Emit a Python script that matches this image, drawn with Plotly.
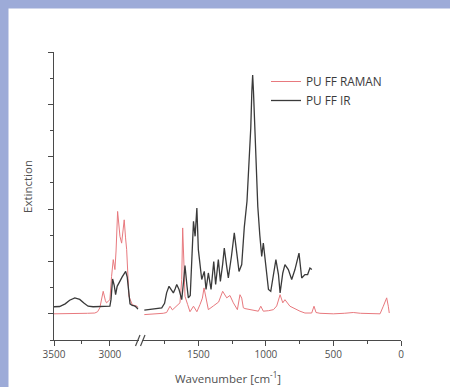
import plotly.graph_objects as go

# ---------------- data ----------------
# IR spectrum, high wavenumber part (left axis segment)
ir_left_wn  = [3500, 3450, 3400, 3360, 3314, 3270, 3230, 3195, 3150, 3100, 3050, 3000, 2990,
               2976, 2962, 2949, 2935, 2925, 2910, 2890, 2875, 2859, 2845, 2830, 2820, 2800, 2780, 2760, 2750]
ir_left_val = [0.27, 0.28, 0.38, 0.52, 0.61, 0.55, 0.40, 0.29, 0.27, 0.27, 0.28, 0.29, 0.55,
               1.33, 1.10, 0.73, 1.05, 1.15, 1.25, 1.41, 1.50, 1.62, 1.40, 0.80, 0.38, 0.32, 0.30, 0.24, 0.18]

# IR spectrum, fingerprint part (right axis segment)
ir_right_wn  = [1900, 1850, 1800, 1771, 1750, 1735, 1717, 1702, 1685, 1672, 1660, 1643, 1630, 1623,
                1610, 1599, 1585, 1574, 1560, 1545, 1536, 1524, 1511, 1500, 1487, 1475, 1456, 1443,
                1426, 1406, 1386, 1372, 1352, 1337, 1320, 1308, 1290, 1278, 1255, 1234, 1215, 1199,
                1179, 1160, 1140, 1125, 1112, 1104, 1098, 1092, 1082, 1070, 1060, 1045, 1031, 1019,
                1006, 993, 981, 964, 944, 926, 907, 895, 875, 859, 834, 809, 785, 755, 735, 711,
                691, 674, 660]
ir_right_val = [0.14, 0.17, 0.20, 0.23, 0.40, 0.80, 1.05, 0.93, 0.80, 0.95, 1.12, 0.93, 0.70, 0.54,
                1.20, 1.84, 1.10, 0.61, 0.70, 2.40, 3.53, 2.96, 4.04, 2.45, 1.70, 1.31, 1.62, 0.93,
                1.56, 0.93, 2.00, 1.12, 2.07, 1.24, 1.90, 2.51, 1.80, 1.37, 2.20, 3.09, 2.30, 1.62,
                1.88, 3.30, 4.30, 5.60, 7.10, 8.50, 9.12, 8.50, 7.00, 5.20, 4.10, 3.00, 2.19, 2.70,
                2.00, 1.43, 0.93, 0.86, 1.50, 2.07, 1.50, 0.80, 1.56, 1.88, 1.69, 1.31, 1.69, 2.32,
                1.37, 1.50, 1.50, 1.75, 1.69]

# Raman spectrum, high wavenumber part
raman_left_wn  = [3500, 3400, 3300, 3200, 3135, 3110, 3090, 3060, 3040, 3030, 3010, 3000, 2985,
                  2970, 2955, 2945, 2931, 2920, 2910, 2895, 2884, 2872, 2860, 2850, 2830, 2800, 2780, 2760, 2750]
raman_left_val = [0.00, 0.00, 0.02, 0.02, 0.03, 0.08, 0.23, 0.86, 0.50, 0.42, 0.50, 0.54, 1.43,
                  2.07, 1.69, 2.40, 3.91, 3.30, 2.96, 2.70, 3.10, 3.59, 2.90, 2.45, 0.67, 0.35, 0.32, 0.30, 0.25]

# Raman spectrum, fingerprint part
raman_right_wn  = [1900, 1850, 1800, 1760, 1735, 1710, 1692, 1660, 1636, 1623, 1616, 1606, 1599,
                   1579, 1562, 1536, 1511, 1488, 1470, 1458, 1440, 1426, 1389, 1350, 1320, 1290,
                   1266, 1241, 1211, 1192, 1179, 1167, 1155, 1105, 1056, 1038, 1019, 980, 944,
                   920, 895, 875, 859, 822, 790, 748, 711, 661, 644, 629, 600, 501, 420, 353,
                   300, 200, 155, 131, 106, 94, 87]
raman_right_val = [-0.03, -0.02, 0.00, 0.02, 0.05, 0.29, 0.15, 0.29, 0.42, 1.31, 3.28, 1.81, 0.67,
                   0.35, 0.08, 0.29, 0.08, 0.35, 0.60, 0.99, 0.45, 0.16, 0.30, 0.45, 0.86, 0.61,
                   0.70, 0.42, 0.16, 0.73, 0.60, 0.23, 0.20, 0.16, 0.10, 0.29, 0.10, 0.12, 0.16,
                   0.30, 0.73, 0.42, 0.54, 0.29, 0.20, 0.10, 0.03, 0.03, 0.29, 0.05, 0.02, 0.00, 0.02, 0.05,
                   0.02, 0.00, 0.00, 0.29, 0.61, 0.29, 0.03]

series_names = ["PU FF RAMAN", "PU FF IR"]
x_major_left = [3500, 3000]
x_minor_left = [3250]
x_major_right = [1500, 1000, 500, 0]
x_minor_right = [1750, 1250, 750, 250]
y_major = [0, 2, 4, 6, 8, 10]
y_minor = [-1, 1, 3, 5, 7, 9]

RED = "#E8797E"
BLACK = "#3a3a3a"
AXIS = "#4a4a4a"
TXT = "#505050"
BLUE = "#9DABD8"
FONT = "Open Sans"

# ---------------- geometry (pixels) ----------------
W, H = 450, 387
L, R, T, B = 54, 401, 52, 340
pw, ph = R - L, B - T
def px(x):
    return (x - L) / pw
def py(y):
    return (B - y) / ph

fig = go.Figure()
fig.add_trace(go.Scatter(x=raman_left_wn, y=raman_left_val, mode="lines", name=series_names[0],
                         line=dict(color=RED, width=1), xaxis="x", yaxis="y", legendgroup="r"))
fig.add_trace(go.Scatter(x=ir_left_wn, y=ir_left_val, mode="lines", name=series_names[1],
                         line=dict(color=BLACK, width=1.3), xaxis="x", yaxis="y", legendgroup="i"))
fig.add_trace(go.Scatter(x=raman_right_wn, y=raman_right_val, mode="lines", name=series_names[0],
                         line=dict(color=RED, width=1), xaxis="x2", yaxis="y", legendgroup="r",
                         showlegend=False))
fig.add_trace(go.Scatter(x=ir_right_wn, y=ir_right_val, mode="lines", name=series_names[1],
                         line=dict(color=BLACK, width=1.3), xaxis="x2", yaxis="y", legendgroup="i",
                         showlegend=False))

x_left_end = 139
x_right_start = 142
left_lo = 3500 - (x_left_end - 54.3) / 0.1114
right_hi = (401 - x_right_start) / 0.1351

common_x = dict(showgrid=False, zeroline=False, showline=True, linecolor=AXIS, linewidth=1.3,
                ticks="outside", ticklen=5, tickwidth=1, tickcolor=AXIS,
                tickfont=dict(family=FONT, size=10, color=TXT), anchor="y")
fig.update_layout(
    xaxis=dict(domain=[0, px(x_left_end)], range=[3500, left_lo], tickvals=x_major_left,
               ticktext=[str(v) for v in x_major_left],
               minor=dict(tickvals=x_minor_left, ticklen=3, ticks="outside", tickcolor=AXIS), **common_x),
    xaxis2=dict(domain=[px(x_right_start), 1], range=[right_hi, 0], tickvals=x_major_right,
                ticktext=[str(v) for v in x_major_right],
                minor=dict(tickvals=x_minor_right, ticklen=3, ticks="outside", tickcolor=AXIS), **common_x),
    yaxis=dict(domain=[0, 1], range=[-1, 10], showgrid=False, zeroline=False, showline=True,
               linecolor=AXIS, linewidth=1.3, ticks="outside", ticklen=5, tickwidth=1, tickcolor=AXIS,
               tickvals=y_major, showticklabels=False, anchor="x",
               minor=dict(tickvals=y_minor, ticklen=3, ticks="outside", tickcolor=AXIS)),
    width=W, height=H,
    margin=dict(l=L, r=W - R, t=T, b=H - B, pad=0),
    paper_bgcolor="white", plot_bgcolor="rgba(0,0,0,0)",
    font=dict(family=FONT, color=TXT),
    showlegend=True,
    legend=dict(x=px(266), y=py(67), xanchor="left", yanchor="top", bgcolor="rgba(0,0,0,0)",
                font=dict(family=FONT, size=11.8, color="#3a3a3a"), tracegroupgap=0),
)

shapes = [
    # blue frame strips (top and left)
    dict(type="rect", xref="paper", yref="paper", x0=px(-5), x1=px(460), y0=py(8.5), y1=py(-5),
         fillcolor=BLUE, line=dict(width=0), layer="below"),
    dict(type="rect", xref="paper", yref="paper", x0=px(-5), x1=px(8.5), y0=py(400), y1=py(-5),
         fillcolor=BLUE, line=dict(width=0), layer="below"),
    # axis break marks
    dict(type="line", xref="paper", yref="paper", x0=px(135.5), x1=px(140), y0=py(346), y1=py(335),
         line=dict(color=AXIS, width=1.2)),
    dict(type="line", xref="paper", yref="paper", x0=px(140.5), x1=px(145), y0=py(346), y1=py(335),
         line=dict(color=AXIS, width=1.2)),
]
fig.update_layout(shapes=shapes)

fig.add_annotation(text="Extinction", xref="paper", yref="paper", x=px(27), y=py(187),
                   textangle=-90, showarrow=False, font=dict(family=FONT, size=11.5, color=TXT),
                   xanchor="center", yanchor="middle")
fig.add_annotation(text="Wavenumber [cm<sup>-1</sup>]", xref="paper", yref="paper", x=0.5, y=py(377.5),
                   showarrow=False, font=dict(family=FONT, size=11.5, color=TXT),
                   xanchor="center", yanchor="middle")

fig.write_html("out.html", config={"displayModeBar": False})
